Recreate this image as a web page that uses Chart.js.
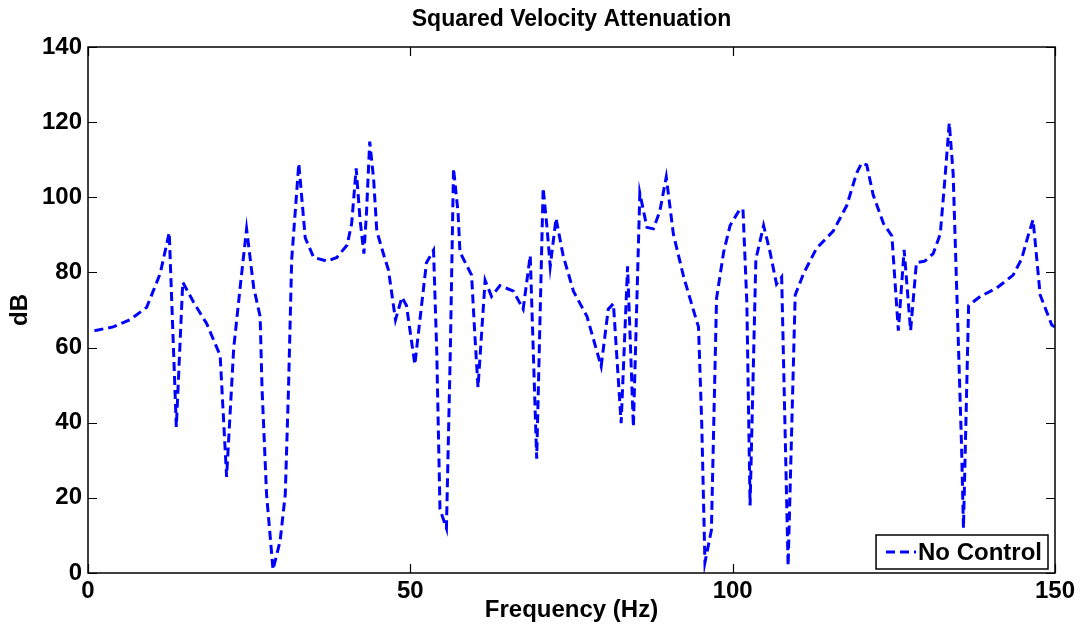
<!DOCTYPE html>
<html>
<head>
<meta charset="utf-8">
<title>Squared Velocity Attenuation</title>
<script src="https://cdn.jsdelivr.net/npm/chart.js@4"></script>
<style>
  html, body { margin: 0; padding: 0; background: #fff; }
  #wrap { width: 1081px; height: 635px; }
</style>
</head>
<body>
<div id="wrap"><canvas id="chart" width="1081" height="635"></canvas></div>
<script>
// frequency (Hz) and level (dB)
const freqHz = [
  1, 3.9, 6.5, 9.1, 11.2, 12.6, 13.7, 14.7, 16.4, 18.4, 20.5, 21.5, 22.6, 23.6, 24.6, 25.7,
  26.7, 27, 27.7, 28.7, 29.8, 30.6, 31.1, 31.6, 32.7, 33.7, 35, 37.1, 38.6, 40.2, 40.9, 41.6,
  42.2, 42.8, 43.2, 43.7, 44.3, 44.8, 45.9, 46.6, 47.7, 48.7, 49.4, 50.7, 52.5, 53.6, 54.1,
  54.6, 55.6, 56.2, 56.7, 57.4, 57.7, 59.5, 60, 60.5, 61.6, 62.6, 63.9, 66, 67.5, 68.6, 69.6,
  70.6, 71.2, 71.7, 72.6, 73.7, 75.3, 77.4, 79.6, 80.7, 81.5, 82.7, 83.7, 84.6, 85.6, 86.7,
  87.7, 88.7, 89.7, 90.8, 92.4, 94.2, 94.7, 95.2, 95.7, 96.7, 97.5, 98.6, 99.6, 101.1, 101.6,
  102.2, 102.7, 103.6, 104.8, 105.8, 106.8, 107.6, 108.6, 109.7, 111, 113, 115.6, 117.7,
  119.2, 120, 120.8, 121.8, 123.4, 124.7, 125.7, 126.6, 127.6, 128.5, 129.8, 131.1, 132.2,
  132.9, 133.6, 134.2, 135.5, 135.8, 136.6, 138.4, 141, 143.5, 144.8, 145.9, 146.6, 147.7,
  149.5, 150
];
const noControlDb = [
  64.5, 65.5, 67.4, 70.7, 79.7, 90.6, 38.9, 77.4, 72, 66.4, 57.9, 25.6, 59.8, 76, 91.6, 76,
  68.3, 49, 20.9, 0.9, 8.5, 20.9, 49, 83.5, 109, 89.2, 84, 83, 84, 87.3, 93, 107.7,
  94, 85, 95.9, 114.8, 105, 91, 84.5, 80.7, 67.4, 73.4, 71.2, 55.5, 82.6, 85.9, 58.8,
  17, 11.9, 58.8, 107.7, 96, 85.4, 79.3, 63.6, 49.4, 77.9, 73.6, 76.5, 75, 70.2, 84.5, 30.4,
  102.5, 92, 81.6, 94.4, 84.5, 75, 68.3, 55, 70.2, 71.7, 39.9, 81.6, 38.9, 101.1, 92,
  91.6, 96.3, 105.4, 90.2, 78.8, 68.3, 65.5, 39.9, 2.8, 11.4, 73.1, 85.4, 92.5, 96.8, 96.8,
  72, 18, 83.5, 92.5, 85.4, 76.9, 78.8, 1.9, 74, 79.7, 86.4, 91, 97.8,
  106.3, 109.1, 108.6, 100.6, 93, 89.7, 64.5, 86, 64.5, 82.6, 83, 85, 90.2,
  104.4, 119.8, 106.3, 34, 11.9, 71.2, 73.6, 75.9, 79.3, 83.5, 90.2, 94, 74,
  66, 65.5
];
const xTicks = [0, 50, 100, 150];
const yTicks = [0, 20, 40, 60, 80, 100, 120, 140];

const FONT = "'Liberation Sans', Arial, Helvetica, sans-serif";
const LINE_COLOR = "rgb(0,0,255)";
const DASH = [9, 5];

// matlab-like box, inward ticks on all four sides and a legend inside the axes
const matlabFrame = {
  id: "matlabFrame",
  afterDraw(chart) {
    const { ctx, chartArea: a, scales: { x, y } } = chart;
    const tl = 9;
    ctx.save();
    ctx.strokeStyle = "#000";
    ctx.lineWidth = 1.5;
    ctx.strokeRect(a.left, a.top, a.right - a.left, a.bottom - a.top);

    ctx.beginPath();
    xTicks.forEach(v => {
      const px = Math.round(x.getPixelForValue(v)) + 0.5;
      ctx.moveTo(px, a.bottom); ctx.lineTo(px, a.bottom - tl);
      ctx.moveTo(px, a.top); ctx.lineTo(px, a.top + tl);
    });
    yTicks.forEach(v => {
      const py = Math.round(y.getPixelForValue(v)) + 0.5;
      ctx.moveTo(a.left, py); ctx.lineTo(a.left + tl, py);
      ctx.moveTo(a.right, py); ctx.lineTo(a.right - tl, py);
    });
    ctx.lineWidth = 1.2;
    ctx.stroke();

    // legend
    const label = chart.data.datasets[0].label;
    ctx.font = "bold 24px " + FONT;
    const tw = ctx.measureText(label).width;
    const h = 34;
    const w = 10 + 28 + 4 + tw + 6;
    const right = a.right - 7;
    const bottom = a.bottom - 4;
    const left = right - w;
    const top = bottom - h;
    ctx.fillStyle = "#fff";
    ctx.fillRect(left, top, w, h);
    ctx.lineWidth = 1.5;
    ctx.strokeStyle = "#000";
    ctx.strokeRect(left, top, w, h);
    ctx.beginPath();
    ctx.setLineDash(DASH);
    ctx.strokeStyle = LINE_COLOR;
    ctx.lineWidth = 3;
    ctx.moveTo(left + 10, top + h / 2);
    ctx.lineTo(left + 40, top + h / 2);
    ctx.stroke();
    ctx.setLineDash([]);
    ctx.fillStyle = "#000";
    ctx.textBaseline = "middle";
    ctx.textAlign = "left";
    ctx.fillText(label, left + 42, top + h / 2 + 1);
    ctx.restore();
  }
};

const points = freqHz.map((f, i) => ({ x: f, y: noControlDb[i] }));

new Chart(document.getElementById("chart"), {
  type: "line",
  data: {
    datasets: [{
      label: "No Control",
      data: points,
      borderColor: LINE_COLOR,
      borderWidth: 3,
      borderDash: DASH,
      pointRadius: 0,
      tension: 0,
      fill: false
    }]
  },
  options: {
    responsive: false,
    animation: false,
    devicePixelRatio: 1,
    layout: { padding: { top: 0, right: 26, bottom: 0, left: 0 } },
    plugins: {
      legend: { display: false },
      tooltip: { enabled: false },
      title: {
        display: true,
        fullSize: false,
        text: "Squared Velocity Attenuation",
        color: "#000",
        font: { family: FONT, size: 23, weight: "bold" },
        padding: { top: 6, bottom: 13.4 }
      }
    },
    scales: {
      x: {
        type: "linear",
        min: 0,
        max: 150,
        afterFit: s => { s.height = 62; },
        afterBuildTicks: s => { s.ticks = xTicks.map(v => ({ value: v })); },
        grid: { display: false, drawTicks: false },
        border: { display: false },
        ticks: {
          color: "#000",
          padding: 4,
          maxRotation: 0,
          font: { family: FONT, size: 24, weight: "bold" }
        },
        title: {
          display: true,
          text: "Frequency (Hz)",
          color: "#000",
          font: { family: FONT, size: 24, weight: "bold" },
          padding: { top: 0, bottom: 10 }
        }
      },
      y: {
        min: 0,
        max: 140,
        afterFit: s => { s.width = 88; },
        afterBuildTicks: s => { s.ticks = yTicks.map(v => ({ value: v })); },
        grid: { display: false, drawTicks: false },
        border: { display: false },
        ticks: {
          color: "#000",
          padding: 6,
          font: { family: FONT, size: 24, weight: "bold" }
        },
        title: {
          display: true,
          text: "dB",
          color: "#000",
          font: { family: FONT, size: 24, weight: "bold" },
          padding: { top: 6, bottom: 6 }
        }
      }
    }
  },
  plugins: [matlabFrame]
});
</script>
</body>
</html>
